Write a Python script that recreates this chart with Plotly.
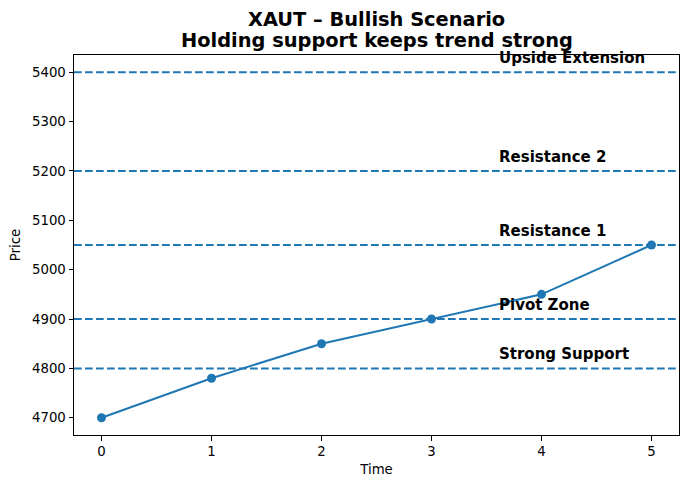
import plotly.graph_objects as go

time = [0, 1, 2, 3, 4, 5]
price = [4700, 4780, 4850, 4900, 4950, 5050]
level_names = ["Strong Support", "Pivot Zone", "Resistance 1", "Resistance 2", "Upside Extension"]
level_values = [4800, 4900, 5050, 5200, 5400]
title_lines = ["XAUT – Bullish Scenario", "Holding support keeps trend strong"]

C0 = "#1f77b4"
fig = go.Figure()

for v in level_values:
    fig.add_shape(type="line", xref="paper", x0=0, x1=1, yref="y", y0=v, y1=v,
                  line=dict(color=C0, width=2, dash="7.7px,3.3px"))

fig.add_trace(go.Scatter(x=time, y=price, mode="lines+markers",
                         line=dict(color=C0, width=2),
                         marker=dict(color=C0, size=9), showlegend=False))

for n, v in zip(level_names, level_values):
    fig.add_annotation(x=3.6, y=v + 15, text="<b>" + n + "</b>", showarrow=False,
                       xanchor="left", yanchor="bottom", xref="x", yref="y",
                       font=dict(size=15, color="black"), borderpad=0, yshift=-3)

for i, t in enumerate(title_lines):
    fig.add_annotation(x=0.5, y=1, xref="paper", yref="paper", text="<b>" + t + "</b>",
                       showarrow=False, xanchor="center", yanchor="middle",
                       yshift=36 - 21 * i, font=dict(size=19.4, color="black"))

fig.update_layout(
    width=682, height=473,
    margin=dict(l=66, r=11, t=47, b=46),
    paper_bgcolor="white", plot_bgcolor="white",
    font=dict(family="DejaVu Sans", size=13.3, color="black"),
    xaxis=dict(range=[-0.25, 5.25], tickvals=time, showgrid=False, zeroline=False,
               automargin=False,
               showline=True, linecolor="black", linewidth=1, mirror=True,
               ticks="outside", ticklen=4.5, tickcolor="black",
               title=dict(text="Time", font=dict(size=13.3), standoff=6)),
    yaxis=dict(range=[4665, 5435], tickvals=[4700, 4800, 4900, 5000, 5100, 5200, 5300, 5400],
               showgrid=False, zeroline=False, automargin=False,
               showline=True, linecolor="black", linewidth=1, mirror=True,
               ticks="outside", ticklen=4.5, tickcolor="black",
               title=dict(text="Price", font=dict(size=13.3), standoff=8)),
)

fig.write_html("out.html")
